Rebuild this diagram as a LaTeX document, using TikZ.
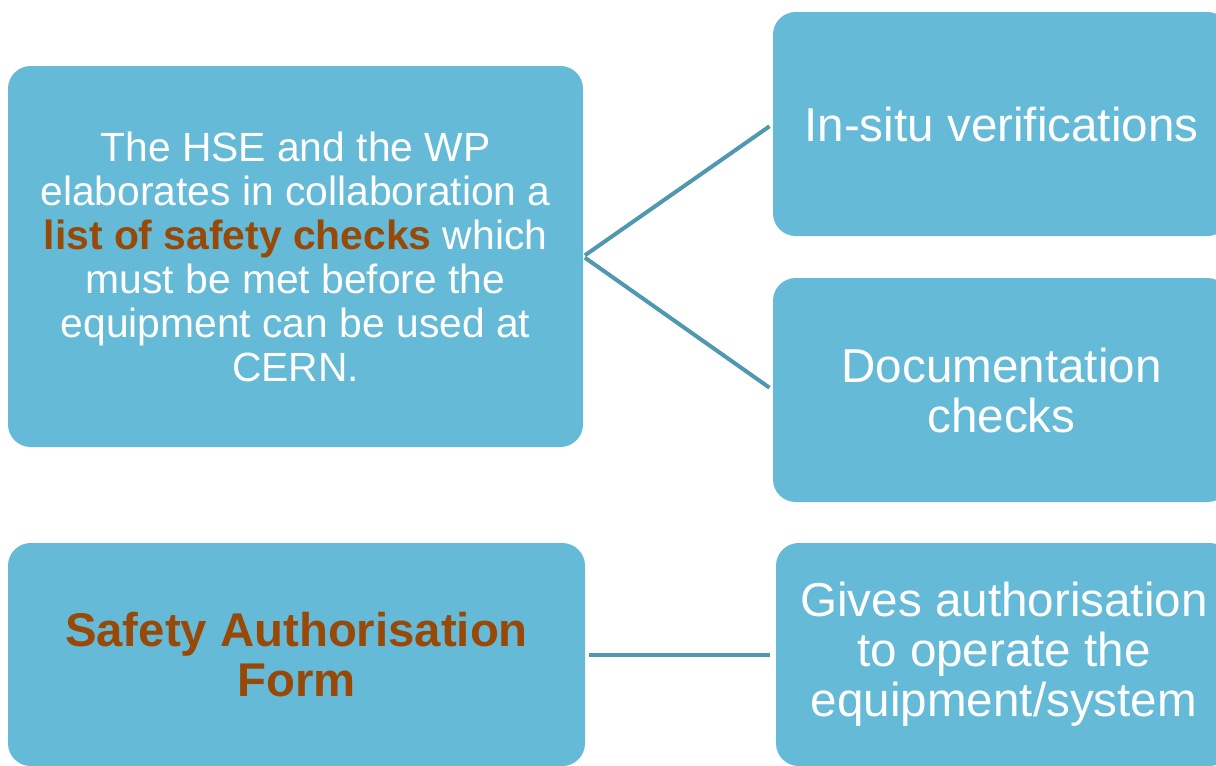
\documentclass[tikz,border=0pt]{standalone}
\usepackage{fontspec}
\setmainfont{Liberation Sans}
\definecolor{boxblue}{HTML}{64BAD7}
\definecolor{linkblue}{HTML}{4F98B0}
\definecolor{safebrown}{HTML}{984807}

\begin{document}
\begin{tikzpicture}[x=0.75pt,y=-0.75pt,
  box/.style={fill=boxblue,rounded corners=17pt,text=white,align=center,inner sep=0pt},
  link/.style={draw=linkblue,line width=3pt}]
\useasboundingbox (0,0) rectangle (1216,765);

% left column
\node[box,minimum width=431.25pt,minimum height=285.75pt,
  font=\fontsize{30.6}{33}\selectfont] (checks) at (295.5,256.5)
  {The HSE and the WP\\ elaborates in collaboration a\\
   \textcolor{safebrown}{\textbf{list of safety checks}} which\\
   must be met before the\\ equipment can be used at\\ CERN.};
\node[box,minimum width=432.75pt,minimum height=167.25pt,text=safebrown,
  font=\fontsize{35.5}{37.5}\selectfont\bfseries] (form) at (296.5,654.5)
  {Safety Authorisation\\ Form};

% right column
\node[box,minimum width=342.75pt,minimum height=168pt,
  font=\fontsize{35.7}{37.5}\selectfont] (insitu) at (1001.5,124)
  {In-situ verifications};
\node[box,minimum width=342.75pt,minimum height=168pt,
  font=\fontsize{35.7}{37.5}\selectfont] (docs) at (1001.5,390)
  {Documentation\\ checks};
\node[box,minimum width=342pt,minimum height=167.25pt,
  font=\fontsize{35.7}{37.5}\selectfont] (operate) at (1004,654.5)
  {Gives authorisation\\ to operate the\\ equipment/system};

% links
\draw[link,shorten <=1.5pt,shorten >=3pt] (checks.east) -- (insitu.west);
\draw[link,shorten <=1.5pt,shorten >=3pt] (checks.east) -- (docs.west);
\draw[link,shorten <=3pt,shorten >=4.5pt] (form.east) -- (operate.west);
\end{tikzpicture}
\end{document}
